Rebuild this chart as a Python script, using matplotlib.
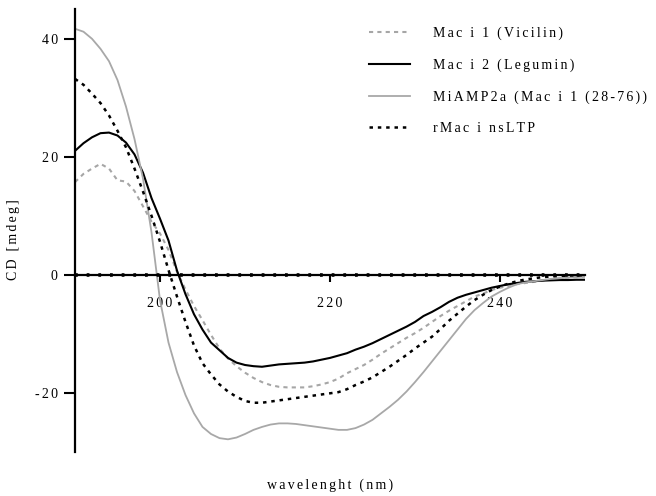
import matplotlib
matplotlib.use("Agg")
import matplotlib.pyplot as plt

plt.rcParams['font.family'] = ['Liberation Serif', 'DejaVu Serif']
plt.rcParams['lines.scale_dashes'] = False
plt.rcParams['axes.unicode_minus'] = False

# CD spectra, one point per nm
wavelength = list(range(190, 251))

vicilin = [15.7, 17.1, 18.0, 18.8, 18.0, 16.0, 15.8, 14.2, 11.6, 9.0,
           7.0, 4.2, 0.5, -2.5, -5.3, -7.7, -10.2, -12.5, -14.2, -15.5,
           -16.6, -17.5, -18.2, -18.7, -19.0, -19.1, -19.1, -19.1, -18.9, -18.6,
           -18.2, -17.6, -16.7, -16.0, -15.3, -14.4, -13.4, -12.5, -11.6, -10.7,
           -9.9, -9.0, -8.0, -7.0, -6.1, -5.3, -4.5, -3.7, -3.2, -2.6,
           -2.2, -1.9, -1.6, -1.4, -1.2, -1.0, -0.8, -0.6, -0.5, -0.4,
           -0.3]

legumin = [21.0, 22.3, 23.3, 24.0, 24.1, 23.6, 22.4, 20.4, 17.3, 13.0,
           9.5, 5.8, 0.7, -3.3, -6.7, -9.3, -11.5, -12.8, -14.1, -14.9,
           -15.3, -15.5, -15.6, -15.4, -15.2, -15.1, -15.0, -14.9, -14.7, -14.4,
           -14.1, -13.7, -13.3, -12.7, -12.2, -11.6, -10.9, -10.2, -9.5, -8.8,
           -8.0, -7.0, -6.3, -5.5, -4.6, -3.9, -3.4, -3.0, -2.6, -2.2,
           -1.9, -1.6, -1.4, -1.2, -1.1, -1.0, -0.95, -0.9, -0.9, -0.85,
           -0.85]

miamp2a = [41.7, 41.2, 40.0, 38.3, 36.2, 33.0, 28.5, 23.0, 16.3, 7.2,
           -4.3, -11.5, -16.5, -20.4, -23.5, -25.8, -27.0, -27.7, -27.9, -27.6,
           -27.0, -26.3, -25.8, -25.4, -25.2, -25.2, -25.3, -25.5, -25.7, -25.9,
           -26.1, -26.3, -26.3, -26.0, -25.4, -24.6, -23.5, -22.4, -21.2, -19.8,
           -18.2, -16.5, -14.7, -12.9, -11.1, -9.3, -7.5, -6.0, -4.8, -3.7,
           -2.9, -2.2, -1.6, -1.3, -1.1, -0.9, -0.7, -0.6, -0.5, -0.4,
           -0.3]

nsltp = [33.2, 32.2, 30.7, 29.1, 27.0, 24.4, 21.6, 18.0, 14.1, 10.0,
         5.6, 0.8, -3.7, -8.0, -12.0, -15.0, -16.9, -18.6, -19.8, -20.7,
         -21.4, -21.7, -21.7, -21.5, -21.3, -21.1, -20.9, -20.7, -20.5, -20.3,
         -20.1, -19.9, -19.4, -18.7, -18.1, -17.4, -16.5, -15.6, -14.6, -13.6,
         -12.5, -11.5, -10.5, -9.2, -7.8, -6.6, -5.4, -4.3, -3.4, -2.6,
         -2.0, -1.5, -1.1, -0.8, -0.6, -0.4, -0.3, -0.2, -0.15, -0.1,
         -0.1]

baseline = [0.0] * len(wavelength)

labels = ['Mac i 1 (Vicilin)', 'Mac i 2 (Legumin)',
          'MiAMP2a (Mac i 1 (28-76))', 'rMac i nsLTP']
x_ticks = [200, 220, 240]
y_ticks = [-20, 0, 20, 40]


def spread(s):
    # loose letter spacing, as in the exported figure
    return '\u200a\u200a'.join(s)


fig = plt.figure(figsize=(6.56, 4.96), dpi=100)
ax = fig.add_axes([75 / 656, 1 - 451.7 / 496, 510 / 656, 442.4 / 496])

# buffer baseline drawn as dots along the zero line
ax.plot(wavelength, baseline, color='black', lw=2.6, dashes=(2, 6.4), zorder=3)

ax.plot(wavelength, vicilin, color='#a6a6a6', lw=1.5, dashes=(3, 3), label=spread(labels[0]))
ax.plot(wavelength, legumin, color='black', lw=1.5, label=spread(labels[1]))
ax.plot(wavelength, miamp2a, color='#a8a8a8', lw=1.3, label=spread(labels[2]))
ax.plot(wavelength, nsltp, color='black', lw=1.8, dashes=(2.5, 3.5), label=spread(labels[3]))

ax.set_xlim(190, 250)
ax.set_ylim(-30, 45)

ax.spines['top'].set_visible(False)
ax.spines['right'].set_visible(False)
ax.spines['bottom'].set_position(('data', 0))
ax.spines['bottom'].set_linewidth(1.6)
ax.spines['left'].set_linewidth(1.6)

ax.set_xticks(x_ticks)
ax.set_xticklabels([spread(str(t)) for t in x_ticks])
ax.set_yticks(y_ticks)
ax.set_yticklabels([spread(str(t)) for t in y_ticks])
ax.tick_params(axis='x', length=5, width=1.5, pad=11, labelsize=10)
ax.tick_params(axis='y', length=8, width=1.5, pad=4.5, labelsize=10)

ax.set_xlabel(spread('wavelenght (nm)'), fontsize=10)
ax.set_ylabel(spread('CD [mdeg]'), fontsize=10)
ax.xaxis.set_label_coords(0.5, -0.06)
ax.yaxis.set_label_coords(-0.108, 0.48)

fig.legend(loc='upper left', bbox_to_anchor=(369 / 656, 1 - 27 / 496),
           frameon=False, fontsize=10, handlelength=2.95, handletextpad=1.65,
           labelspacing=1.3, borderpad=0, borderaxespad=0)

fig.savefig('out.png', dpi=100)
